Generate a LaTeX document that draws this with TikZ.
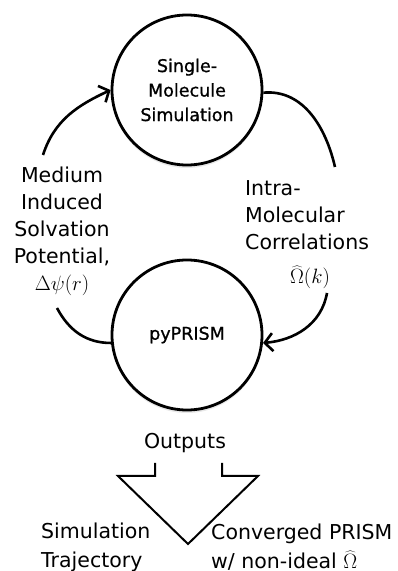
\documentclass[tikz,border=0pt]{standalone}
\usepackage{fontspec}
\setmainfont{DejaVu Sans}
\newfontfamily\circfont[FakeBold=0.9]{DejaVu Sans}
\usetikzlibrary{arrows.meta,shadows}
\begin{document}
\begin{tikzpicture}[x=1pt,y=1pt,
  circ/.style={circle,draw,line width=2.8pt,minimum size=150pt,inner sep=0pt,fill=white,
    drop shadow={opacity=0.18,shadow xshift=0pt,shadow yshift=-3pt},
    font=\circfont\fontsize{17.5}{24.5}\selectfont,align=center},
  lbl/.style={font=\fontsize{20.5}{27}\selectfont,inner sep=0pt},
  lblb/.style={font=\fontsize{20.5}{29}\selectfont,inner sep=0pt},
  arc/.style={line width=2.6pt},
  arr/.style={arc,-{Straight Barb[length=8pt,width=18pt,line width=2.6pt]}},
  blk/.style={line width=2pt,line join=miter}]
\useasboundingbox (0,0) rectangle (397,571);
% circles
\node[circ] (sms) at (187,481) {Single-\\Molecule\\Simulation};
\node[circ] (pp) at (187,236) {pyPRISM};
% connectors
\coordinate (a1) at (43,416);
\coordinate (a2) at (335,404);
\coordinate (a3) at (57,263);
\coordinate (a4) at (327,278);
\draw[arr] (a1) to[out=72,in=205] (sms.west);
\draw[arc] (sms.-2) to[out=5,in=103] (a2);
\draw[arc] (a3) to[out=-62,in=180] (pp.-174);
\draw[arr] (a4) to[out=-100,in=5] (pp.-6);
% labels
\node[lbl,align=center] (ml) at (62,340) {Medium\\Induced\\Solvation\\Potential,\\$\Delta\psi(r)$};
\node[lbl,align=left,anchor=west] (ic) at (245,356) {Intra-\\Molecular\\Correlations};
\node[lbl] (om) at (310,294) {$\widehat{\Omega}(k)$};
\node[lbl] (out) at (185,128) {Outputs};
% block arrow
\coordinate (b1) at (155,108);
\coordinate (b2) at (155,95);
\coordinate (b3) at (118,95);
\coordinate (b4) at (188,27);
\coordinate (b5) at (258,95);
\coordinate (b6) at (222,95);
\coordinate (b7) at (222,108);
\draw[blk] (b1) -- (b2) -- (b3) -- (b4) -- (b5) -- (b6) -- (b7);
\node[lblb,align=left,anchor=west] (st) at (41,24) {Simulation\\Trajectory};
\node[lblb,align=left,anchor=west] (cp) at (211,24) {Converged PRISM\\w/ non-ideal $\widehat{\Omega}$};
\end{tikzpicture}
\end{document}
